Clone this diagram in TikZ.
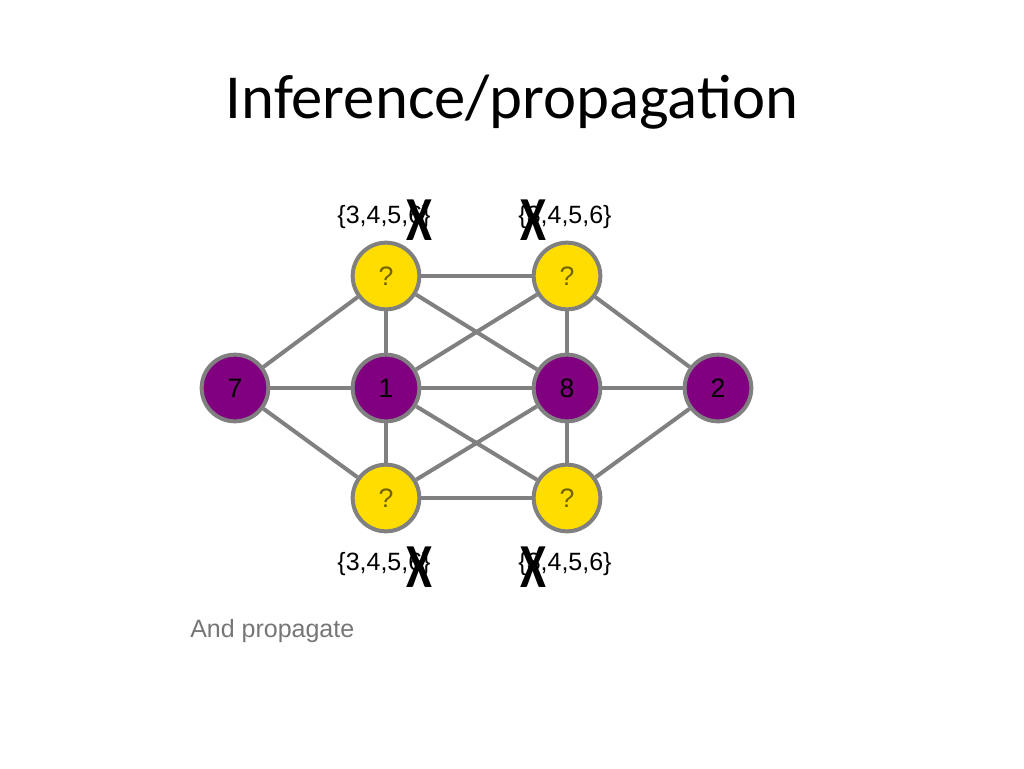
\documentclass[tikz,border=0pt]{standalone}
\usepackage{fontspec}
\setmainfont{Liberation Sans}
\newfontfamily\titlefont{Carlito}
\definecolor{nodePurple}{RGB}{128,0,128}
\definecolor{nodeYellow}{RGB}{255,221,0}
\definecolor{edgeGray}{RGB}{128,128,128}
\definecolor{noteGray}{RGB}{118,118,118}
\begin{document}
\begin{tikzpicture}
[x=0.75pt,y=-0.75pt,
  lineDecorate/.style={-,line width=3pt,draw=edgeGray},%
  nodeDecorate/.style={shape=circle,inner sep=0pt,minimum size=50pt,draw=edgeGray,line width=3pt,font=\fontsize{20}{23}\selectfont},
  knownNode/.style={nodeDecorate,fill=nodePurple,text=black},
  askNode/.style={nodeDecorate,fill=nodeYellow,text=black!55!nodeYellow},
  domainLabel/.style={font=\fontsize{18.75}{22}\selectfont},
  crossMark/.style={font=\titlefont\bfseries\fontsize{47}{47}\selectfont,inner sep=0pt}]
\useasboundingbox (0,0) rectangle (1024,768);
%% title
\node (title) at (512,118) [anchor=base,font=\titlefont\fontsize{47}{56}\selectfont] {Inference/propagation};
%% nodes or vertices
\foreach \nodename/\x/\y/\txt in {
  v7/235/388/7, v1/386/388/1, v8/567/388/8, v2/718/388/2}
{
  \node (\nodename) at (\x,\y) [knownNode] {\txt};
}
\foreach \nodename/\x/\y in {
  qa/386/276, qb/567/276, qc/386/498, qd/567/498}
{
  \node (\nodename) at (\x,\y) [askNode] {?};
}
%% edges or lines
\path
\foreach \startnode/\endnode in {
  v7/qa, v7/v1, v7/qc, qa/v1, v1/qc, qa/qb, qa/v8, v1/qb, v1/v8, v1/qd,
  qc/v8, qc/qd, qb/v8, v8/qd, qb/v2, v8/v2, qd/v2}
{
  (\startnode) edge[lineDecorate] node {} (\endnode)
};
%% domains
\foreach \nodename/\x/\y in {
  da/384/217, db/565/217, dc/384/564, dd/565/564}
{
  \node (\nodename) at (\x,\y) [domainLabel] {\{3,4,5,6\}};
}
%% crossed out values
\foreach \nodename/\x/\y in {
  xa/419/220, xb/533/220, xc/419/567, xd/533/567}
{
  \node (\nodename) at (\x,\y) [crossMark] {\scalebox{0.75}[1]{X}};
}
%% note
\node (note) at (190,631) [anchor=west,inner sep=0pt,text=noteGray,domainLabel] {And propagate};
\end{tikzpicture}
\end{document}
